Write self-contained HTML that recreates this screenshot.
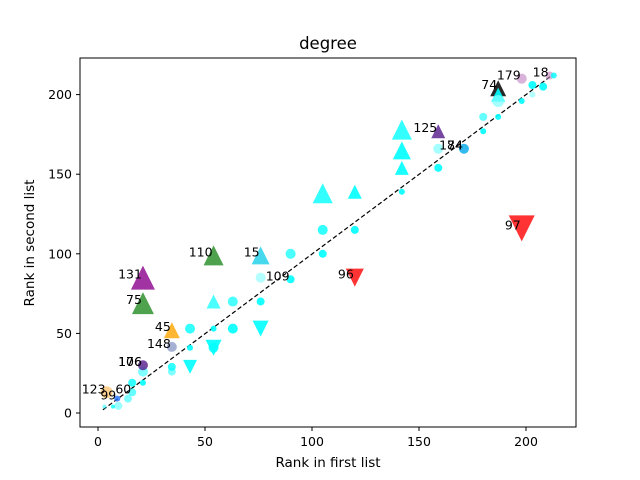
<!DOCTYPE html>
<html><head><meta charset="utf-8"><style>
html,body{margin:0;padding:0;background:#fff;}
svg{display:block;font-family:"DejaVu Sans","Liberation Sans",sans-serif;}
</style></head><body>
<svg id="chart" width="640" height="480">
<rect x="0" y="0" width="640" height="480" fill="#fff"/>
<text x="328" y="49" font-size="16.5" text-anchor="middle">degree</text>
<text x="328" y="467" font-size="13.5" text-anchor="middle">Rank in first list</text>
<text x="34" y="243" font-size="13.5" text-anchor="middle" transform="rotate(-90 34 243)">Rank in second list</text>
<g id="ticks"></g>
<line id="diag" stroke="#000" stroke-width="1.2" stroke-dasharray="4.5,2.5"/>
<g id="marks"></g>
<g id="labels"></g>
<rect x="80" y="58" width="496" height="369" fill="none" stroke="#000" stroke-width="1"/>
</svg>
<script>
const xTicks=[0,50,100,150,200];
const yTicks=[0,50,100,150,200];
const xVals=[4,9,3,7,9.5,14,16,16,21,21,21,34.5,34.5,34.5,34.5,21,21,54,76,76,43,43,43,54,54,54,54,63,63,76,76,90,90,120,105,105,105,120,120,142,142,142,142,159,159,159,171,180,180,187,187,187,187,198,198,203,203,208,211,213,198];
const yVals=[13,9,4,4,4.5,9,13,19,19,26,30,29,26,41.5,52,85,69,99,99,85,53,41,29,70,53,41,41,70,53,70,53,84,100,85,115,100,138,115,139,178,165,154,139,177,166,154,166,186,177,204,200,196,186,196,210,200,206,205,212,212,116];
const shapes=['o','o','o','o','o','o','o','o','o','o','o','o','o','o','^','^','^','^','^','o','o','o','v','^','o','o','v','o','o','o','v','o','o','v','o','o','^','o','^','^','^','^','o','^','o','o','o','o','o','^','^','o','o','o','o','o','o','o','o','o','v'];
const sizes=[6,3,2,2,4,4,4,4,3,5,5,4,4,5,8,12,11,10,9,5,5,3,7,7,3,5,8,5,5,4,8,4,5,9,5,4,10,4,7,10,9,7,3,7,5,4,5,4,3,8,7,6,3,3,5,3,4,4,4,3,13];
const colors=['#ffb347','#1e6fff','#00ffff','#00ffff','#00ffff','#00ffff','#00ffff','#00ffff','#00ffff','#00ffff','#551a8b','#00ffff','#00ffff','#6a7bb5','#ffa500','#8b008b','#228b22','#228b22','#18d0e8','#80ffff','#00ffff','#00ffff','#00ffff','#00ffff','#00ffff','#00ffff','#00ffff','#00ffff','#00ffff','#00ffff','#00ffff','#00ffff','#00ffff','#ff0000','#00ffff','#00ffff','#00ffff','#00ffff','#00ffff','#00ffff','#00ffff','#00ffff','#00ffff','#551a8b','#80ffff','#00ffff','#00a8e8','#00ffff','#00ffff','#111111','#00ffff','#80ffff','#00ffff','#00ffff','#c080c0','#80ffff','#00ffff','#00ffff','#c080c0','#00ffff','#ff0000'];
const alphas=[0.6,0.8,0.5,0.8,0.4,0.5,0.6,0.8,0.9,0.5,0.8,0.8,0.5,0.6,0.8,0.8,0.8,0.8,0.8,0.6,0.8,0.9,0.9,0.7,0.9,0.8,0.9,0.7,0.9,0.9,0.9,0.9,0.7,0.8,0.8,0.9,0.8,0.9,0.9,0.8,0.9,0.9,0.9,0.8,0.7,0.9,0.8,0.6,0.9,0.9,0.9,0.7,0.9,0.9,0.6,0.6,0.9,0.9,0.6,0.8,0.8];
const labels=['123','99','','','','','60','','','','106','','','148','45','131','75','110','15','','','','','','','','','','','','','109','','96','','','','','','','','','','125','','','84','','','74','','','','','179','','','','18','','97'];
const extraLabels=['176','174'];
const extraIdx=[10,46];
const X0=98,XS=2.14,Y0=413,YS=1.592;
function xs(v){return X0+XS*v;}
function ys(v){return Y0-YS*v;}
const NS='http://www.w3.org/2000/svg';
const tg=document.getElementById('ticks');
xTicks.forEach(t=>{
  const l=document.createElementNS(NS,'line');
  l.setAttribute('x1',xs(t));l.setAttribute('x2',xs(t));l.setAttribute('y1',427);l.setAttribute('y2',431);l.setAttribute('stroke','#000');
  
  
  tg.appendChild(l);
  const tx=document.createElementNS(NS,'text');
  tx.setAttribute('x',xs(t));tx.setAttribute('y',446);tx.setAttribute('font-size','12.5');tx.setAttribute('text-anchor','middle');tx.textContent=t;
  
  
  tg.appendChild(tx);
});
yTicks.forEach(t=>{
  const l=document.createElementNS(NS,'line');
  l.setAttribute('x1',76);l.setAttribute('x2',80);l.setAttribute('y1',ys(t));l.setAttribute('y2',ys(t));l.setAttribute('stroke','#000');
  
  
  tg.appendChild(l);
  const tx=document.createElementNS(NS,'text');
  tx.setAttribute('x',72);tx.setAttribute('y',ys(t)+4.5);tx.setAttribute('font-size','12.5');tx.setAttribute('text-anchor','end');tx.textContent=t;
  
  
  tg.appendChild(tx);
});
const d=document.getElementById('diag');
d.setAttribute('x1',xs(2.3));d.setAttribute('y1',ys(2));d.setAttribute('x2',xs(212));d.setAttribute('y2',ys(212));
const mg=document.getElementById('marks'),lg=document.getElementById('labels');
function addLabel(txt,cx,cy){
  const tx=document.createElementNS(NS,'text');
  tx.setAttribute('x',cx-1);tx.setAttribute('y',cy+1);tx.setAttribute('font-size','12.5');tx.setAttribute('text-anchor','end');tx.textContent=txt;
  
  
  lg.appendChild(tx);
}
for(let i=0;i<xVals.length;i++){
  const cx=xs(xVals[i]),cy=ys(yVals[i]),s=sizes[i];
  let el;
  if(shapes[i]==='o'){
    el=document.createElementNS(NS,'circle');
    el.setAttribute('cx',cx);el.setAttribute('cy',cy);el.setAttribute('r',s);
  }else{
    el=document.createElementNS(NS,'polygon');
    const h=s;
    const p=shapes[i]==='^'?[[cx,cy-h],[cx-h,cy+h],[cx+h,cy+h]]:[[cx,cy+h],[cx-h,cy-h],[cx+h,cy-h]];
    el.setAttribute('points',p.map(q=>q.join(',')).join(' '));
  }
  el.setAttribute('fill',colors[i]);el.setAttribute('fill-opacity',alphas[i]);
  
  
  mg.appendChild(el);
  if(labels[i]) addLabel(labels[i],cx,cy);
}
extraLabels.forEach((t,k)=>addLabel(t,xs(xVals[extraIdx[k]]),ys(yVals[extraIdx[k]])));
</script>
</body></html>
